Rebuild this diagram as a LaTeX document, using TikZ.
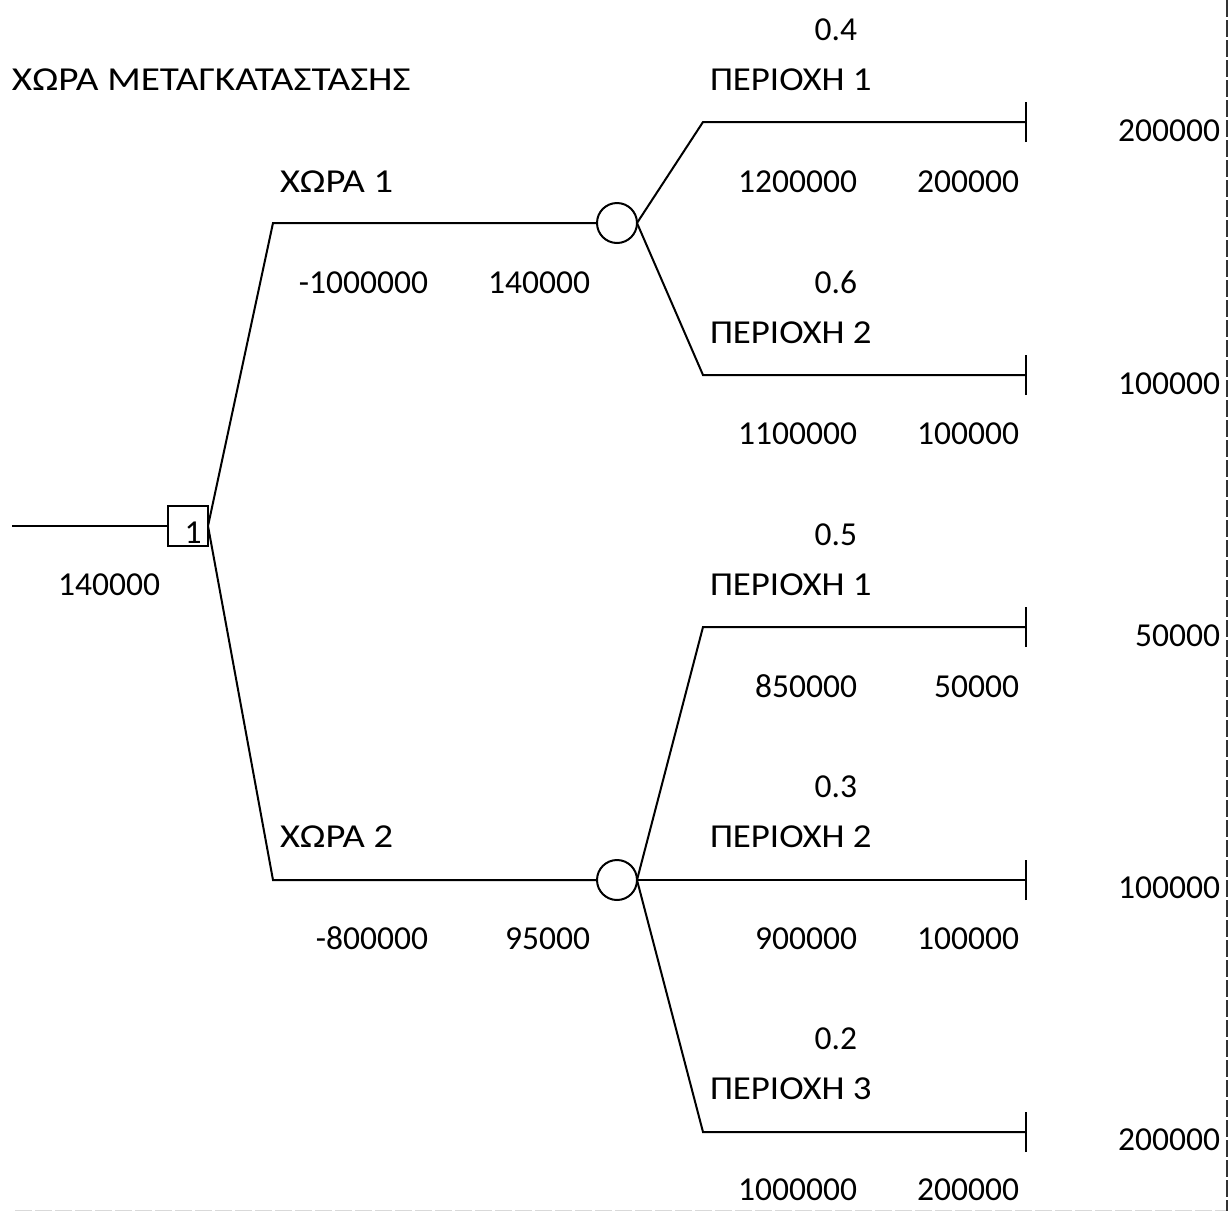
\documentclass[tikz,border=0pt]{standalone}
\usepackage{fontspec}
\setmainfont{Carlito}
\newcommand\wideGk[2]{\scalebox{#1}[1]{#2}}
\begin{document}
\begin{tikzpicture}[x=1pt,y=-1pt,
  every node/.style={font=\fontsize{33.5}{40}\selectfont, inner sep=0pt, outer sep=0pt},
  br/.style={line width=2pt},
  term/.style={line width=2.2pt},
  lblR/.style={anchor=base east},
  lblL/.style={anchor=base west},
  decbox/.style={draw, line width=2pt, minimum width=40pt, minimum height=40pt, fill=white},
  chance/.style={draw, circle, line width=2pt, minimum size=40pt, fill=white}
]
\useasboundingbox (0,0) rectangle (1232,1211);

% borders
\draw[line width=0.8pt, color=black!15, dash pattern=on 17pt off 3pt] (15,1210) -- (1228,1210);
\draw[line width=1.6pt, color=black!80, dash pattern=on 17pt off 3pt] (1227,0) -- (1227,1211);

% coordinates
\coordinate (start) at (12,526);
\coordinate (k1) at (273,223);
\coordinate (k2) at (273,880);
\coordinate (a1) at (703,122);
\coordinate (a2) at (703,375);
\coordinate (b1) at (703,627);
\coordinate (b3) at (703,1132);
\coordinate (ta1) at (1026,122);
\coordinate (ta2) at (1026,375);
\coordinate (tb1) at (1026,627);
\coordinate (tb2) at (1026,880);
\coordinate (tb3) at (1026,1132);

% nodes
\node[decbox] (dec) at (188,526) {};
\node[chance] (ch1) at (617,223) {};
\node[chance] (ch2) at (617,880) {};
\node[anchor=base] (declbl) at (193,543) {1};

% branches
\draw[br] (start) -- (dec.west);
\draw[br] (dec.east) -- (k1) -- (ch1.west);
\draw[br] (dec.east) -- (k2) -- (ch2.west);
\draw[br] (ch1.east) -- (a1) -- (ta1);
\draw[br] (ch1.east) -- (a2) -- (ta2);
\draw[br] (ch2.east) -- (b1) -- (tb1);
\draw[br] (ch2.east) -- (tb2);
\draw[br] (ch2.east) -- (b3) -- (tb3);

% terminal bars
\foreach \t in {ta1,ta2,tb1,tb2,tb3}{
  \draw[term] ([yshift=-20pt]\t) -- ([yshift=20pt]\t);
}

% labels
\node[lblL] (title) at (12,90) {\wideGk{1.17}{ΧΩΡΑ ΜΕΤΑΓΚΑΤΑΣΤΑΣΗΣ}};
\node[lblR] (root) at (160,595) {140000};

\node[lblL] (x1) at (280,192) {\wideGk{1.15}{ΧΩΡΑ 1}};
\node[lblR] (x1c) at (428,293) {-1000000};
\node[lblR] (x1v) at (590,293) {140000};

\node[lblL] (x2) at (280,847) {\wideGk{1.15}{ΧΩΡΑ 2}};
\node[lblR] (x2c) at (428,949) {-800000};
\node[lblR] (x2v) at (590,949) {95000};

% branch 1-1
\node[lblR] (p11) at (857,40) {0.4};
\node[lblL] (n11) at (710,90) {\wideGk{1.10}{ΠΕΡΙΟΧΗ 1}};
\node[lblR] (v11) at (857,192) {1200000};
\node[lblR] (w11) at (1019,192) {200000};
\node[lblR] (r11) at (1220,141) {200000};

% branch 1-2
\node[lblR] (p12) at (857,293) {0.6};
\node[lblL] (n12) at (710,343) {\wideGk{1.10}{ΠΕΡΙΟΧΗ 2}};
\node[lblR] (v12) at (857,444) {1100000};
\node[lblR] (w12) at (1019,444) {100000};
\node[lblR] (r12) at (1220,394) {100000};

% branch 2-1
\node[lblR] (p21) at (857,545) {0.5};
\node[lblL] (n21) at (710,595) {\wideGk{1.10}{ΠΕΡΙΟΧΗ 1}};
\node[lblR] (v21) at (857,697) {850000};
\node[lblR] (w21) at (1019,697) {50000};
\node[lblR] (r21) at (1220,646) {50000};

% branch 2-2
\node[lblR] (p22) at (857,797) {0.3};
\node[lblL] (n22) at (710,847) {\wideGk{1.10}{ΠΕΡΙΟΧΗ 2}};
\node[lblR] (v22) at (857,949) {900000};
\node[lblR] (w22) at (1019,949) {100000};
\node[lblR] (r22) at (1220,898) {100000};

% branch 2-3
\node[lblR] (p23) at (857,1049) {0.2};
\node[lblL] (n23) at (710,1099) {\wideGk{1.10}{ΠΕΡΙΟΧΗ 3}};
\node[lblR] (v23) at (857,1200) {1000000};
\node[lblR] (w23) at (1019,1200) {200000};
\node[lblR] (r23) at (1220,1150) {200000};
\end{tikzpicture}
\end{document}
